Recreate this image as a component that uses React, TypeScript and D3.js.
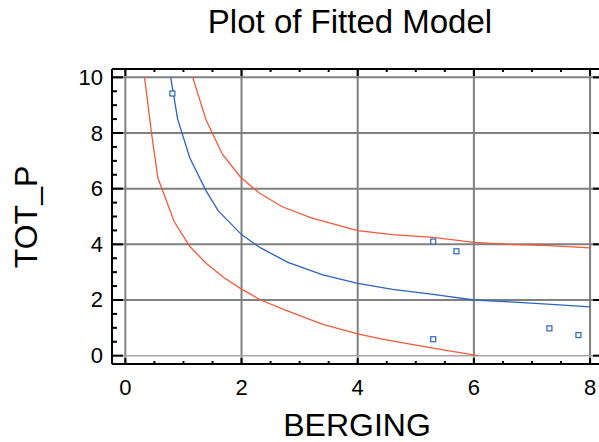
import * as d3 from "d3";

// fitted line (blue) and limits (red)
const fitX = [0.78, 0.9, 1.11, 1.39, 1.6, 2.0, 2.33, 2.8, 3.4, 4.0, 4.6, 5.3, 6.0, 6.7, 7.4, 8.0];
const fitY = [10.0, 8.5, 7.1, 5.92, 5.2, 4.35, 3.87, 3.35, 2.9, 2.6, 2.38, 2.2, 2.0, 1.92, 1.83, 1.75];

const lowerX = [0.33, 0.45, 0.56, 0.84, 1.11, 1.4, 1.7, 2.0, 2.33, 2.8, 3.4, 4.0, 4.4, 5.0, 5.5, 6.07];
const lowerY = [10.0, 8.0, 6.38, 4.82, 3.92, 3.3, 2.8, 2.39, 2.0, 1.6, 1.12, 0.78, 0.6, 0.38, 0.2, 0.0];

const upperX = [1.16, 1.39, 1.67, 1.98, 2.3, 2.7, 3.2, 4.0, 4.6, 5.3, 6.0, 6.6, 7.3, 8.0];
const upperY = [10.0, 8.47, 7.24, 6.42, 5.85, 5.35, 4.95, 4.49, 4.35, 4.25, 4.07, 4.0, 3.95, 3.87];

const pointX = [0.81, 5.3, 5.7, 5.3, 7.3, 7.8];
const pointY = [9.42, 4.1, 3.75, 0.59, 0.98, 0.74];

const xTicks = [0, 2, 4, 6, 8];
const yTicks = [0, 2, 4, 6, 8, 10];

const title = "Plot of Fitted Model";
const xLabel = "BERGING";
const yLabel = "TOT_P";

export default function App() {
  const width = 599;
  const height = 442;
  const left = 112;
  const right = 604;
  const top = 69;
  const bottom = 364;
  const font = "'Liberation Sans', Arial, sans-serif";
  const gridColor = "#808080";
  const blue = "#2a64c0";
  const red = "#f05a3a";

  const xScale = d3.scaleLinear().domain([-0.23, 8.24]).range([left, right]);
  const yScale = d3.scaleLinear().domain([-0.3, 10.3]).range([bottom, top]);

  const line = d3
    .line<[number, number]>()
    .x((d) => xScale(d[0]))
    .y((d) => yScale(d[1]));

  const zip = (xs: number[], ys: number[]) =>
    xs.map((x, i) => [x, ys[i]] as [number, number]);

  const xMinor = d3.range(0.5, 8, 0.5).filter((v) => v % 2 !== 0);
  const yMinor = d3.range(0.5, 10, 0.5).filter((v) => v % 2 !== 0);

  return (
    <div style={{ position: "absolute", left: 0, top: 0 }}>
      <svg width={width} height={height} style={{ display: "block" }}>
        <rect width={width} height={height} fill="#fff" />
        <text
          x={350}
          y={33}
          textAnchor="middle"
          fontFamily={font}
          fontSize={33}
        >
          {title}
        </text>

        {/* grid */}
        <g stroke={gridColor} strokeWidth={2}>
          {xTicks.map((t) => (
            <line key={t} x1={xScale(t)} x2={xScale(t)} y1={top} y2={bottom} />
          ))}
          {yTicks.map((t) => (
            <line
              key={t}
              x1={left}
              x2={right}
              y1={yScale(t)}
              y2={yScale(t)}
              stroke={t === 0 ? "#a8a8a8" : gridColor}
              strokeWidth={t === 0 ? 1.5 : 2}
            />
          ))}
        </g>

        {/* curves */}
        <path d={line(zip(lowerX, lowerY)) ?? ""} fill="none" stroke={red} strokeWidth={1.3} />
        <path d={line(zip(upperX, upperY)) ?? ""} fill="none" stroke={red} strokeWidth={1.3} />
        <path d={line(zip(fitX, fitY)) ?? ""} fill="none" stroke={blue} strokeWidth={1.3} />

        {pointX.map((x, i) => (
          <rect
            key={i}
            x={xScale(x) - 2.5}
            y={yScale(pointY[i]) - 2.5}
            width={5}
            height={5}
            fill="#fff"
            stroke={blue}
            strokeWidth={1.2}
          />
        ))}

        {/* frame and ticks */}
        <g stroke="#000" strokeWidth={2}>
          <line x1={left} x2={right} y1={top} y2={top} />
          <line x1={left} x2={right} y1={bottom} y2={bottom} />
          <line x1={left} x2={left} y1={top} y2={bottom} />
          <line x1={right} x2={right} y1={top} y2={bottom} />
          {xTicks.map((t) => (
            <g key={t}>
              <line x1={xScale(t)} x2={xScale(t)} y1={bottom} y2={bottom - 6} />
              <line x1={xScale(t)} x2={xScale(t)} y1={top} y2={top + 7} />
            </g>
          ))}
          {xMinor.map((t) => (
            <g key={t}>
              <line x1={xScale(t)} x2={xScale(t)} y1={bottom} y2={bottom - 3} />
              <line x1={xScale(t)} x2={xScale(t)} y1={top} y2={top + 3} />
            </g>
          ))}
          {yTicks.map((t) => (
            <g key={t}>
              <line x1={left} x2={left + 11} y1={yScale(t)} y2={yScale(t)} />
              <line x1={right} x2={right - 11} y1={yScale(t)} y2={yScale(t)} />
            </g>
          ))}
          {yMinor.map((t) => (
            <g key={t}>
              <line x1={left} x2={left + 5} y1={yScale(t)} y2={yScale(t)} />
              <line x1={right} x2={right - 5} y1={yScale(t)} y2={yScale(t)} />
            </g>
          ))}
        </g>

        {/* tick labels */}
        <g fontFamily={font} fontSize={22} fill="#000">
          {xTicks.map((t) => (
            <text key={t} x={xScale(t)} y={395} textAnchor="middle">
              {t}
            </text>
          ))}
          {yTicks.map((t) => (
            <text key={t} x={103} y={yScale(t) + 7.5} textAnchor="end">
              {t}
            </text>
          ))}
        </g>

        <text
          x={357}
          y={436}
          textAnchor="middle"
          fontFamily={font}
          fontSize={32}
        >
          {xLabel}
        </text>
        <text
          transform="translate(37,217) rotate(-90)"
          textAnchor="middle"
          fontFamily={font}
          fontSize={32}
        >
          {yLabel}
        </text>
      </svg>
    </div>
  );
}
